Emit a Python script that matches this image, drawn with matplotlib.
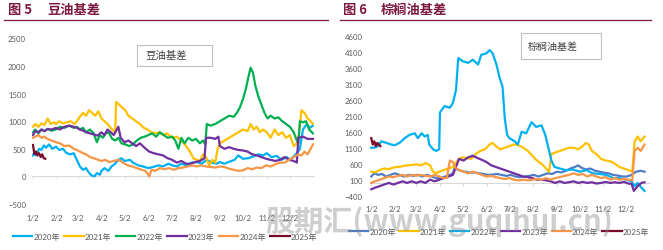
import matplotlib
matplotlib.use("Agg")
import matplotlib.pyplot as plt
from matplotlib.lines import Line2D
from matplotlib.patches import Rectangle

plt.rcParams['font.family'] = ['Lato', 'Noto Sans CJK SC', 'DejaVu Sans']

# ---- data (day of year, basis in yuan/ton) ----
month_days = [1, 32, 60, 91, 121, 152, 182, 213, 244, 274, 305, 335]
month_labels = ['1/2', '2/2', '3/2', '4/2', '5/2', '6/2', '7/2', '8/2', '9/2', '10/2', '11/2', '12/2']
years = ['2020年', '2021年', '2022年', '2023年', '2024年', '2025年']

# soybean oil basis
sbo_2020_d = [1, 3, 5, 9, 12, 15, 18, 22, 26, 31, 35, 40, 44, 49, 54, 58, 62, 66, 70, 73, 77, 81, 84, 88, 90, 94, 99, 103,
              107, 112, 116, 120, 127, 131, 138, 144, 151, 157, 164, 170, 177, 182, 188, 194, 201, 207, 214, 220, 227, 233,
              240, 244, 250, 257, 263, 268, 274, 281, 287, 294, 300, 305, 311, 318, 324, 331, 335, 339, 344, 348, 352, 357,
              361, 365]
sbo_2020_v = [380, 450, 380, 500, 480, 560, 520, 580, 500, 540, 480, 500, 430, 400, 420, 300, 180, 120, 150, 80, 20, 0, 60,
              30, 100, 150, 100, 180, 220, 300, 330, 280, 300, 250, 200, 180, 150, 170, 200, 180, 230, 200, 180, 230, 200,
              250, 260, 230, 300, 250, 230, 260, 230, 270, 300, 380, 320, 330, 360, 400, 380, 420, 350, 370, 300, 350, 300,
              350, 420, 500, 850, 950, 880, 920]
sbo_2021_d = [1, 4, 8, 12, 16, 20, 24, 28, 31, 35, 40, 45, 50, 55, 58, 62, 66, 70, 74, 78, 82, 86, 90, 94, 98, 102, 106, 108,
              109, 113, 117, 121, 125, 130, 135, 140, 145, 150, 155, 160, 165, 170, 175, 182, 188, 194, 200, 205, 210, 214,
              218, 222, 226, 230, 234, 238, 241, 244, 250, 256, 262, 268, 274, 280, 284, 288, 292, 296, 300, 305, 310, 315,
              320, 325, 330, 335, 340, 344, 347, 350, 354, 358, 362, 365]
sbo_2021_v = [900, 950, 900, 960, 930, 1050, 950, 980, 950, 1000, 960, 980, 1000, 950, 1000, 1080, 1150, 1100, 1200, 1150,
              1100, 1180, 1050, 1000, 950, 880, 820, 800, 1350, 1300, 1250, 1200, 1100, 1050, 1000, 950, 880, 850, 800, 780,
              800, 750, 780, 700, 720, 650, 550, 450, 320, 300, 280, 400, 350, 200, 300, 250, 500, 600, 650, 700, 750, 800,
              850, 820, 950, 850, 900, 800, 850, 800, 700, 850, 750, 800, 700, 750, 550, 600, 800, 1200, 1150, 1050, 1000,
              950]
sbo_2022_d = [1, 4, 8, 12, 16, 20, 25, 31, 36, 42, 48, 54, 58, 62, 66, 70, 75, 80, 84, 88, 92, 96, 100, 104, 108, 112, 116,
              121, 126, 131, 136, 141, 146, 151, 156, 161, 166, 171, 176, 182, 186, 190, 194, 198, 203, 208, 213, 218, 222,
              225, 227, 232, 238, 244, 250, 256, 262, 266, 270, 274, 278, 281, 284, 287, 290, 294, 298, 302, 306, 310, 315,
              320, 325, 330, 335, 340, 344, 346, 348, 352, 356, 360, 365]
sbo_2022_v = [800, 850, 780, 850, 820, 860, 830, 850, 900, 880, 920, 880, 900, 850, 880, 800, 850, 780, 620, 750, 700, 800,
              780, 680, 650, 700, 600, 580, 550, 580, 650, 700, 720, 750, 780, 720, 800, 750, 700, 720, 650, 500, 700, 600,
              700, 650, 680, 600, 650, 580, 950, 920, 950, 1000, 1050, 1100, 1080, 1150, 1250, 1400, 1600, 1800, 1970, 1880,
              1650, 1450, 1300, 1150, 1050, 1100, 1050, 1070, 1000, 950, 900, 800, 650, 600, 1000, 980, 1000, 850, 780]
sbo_2023_d = [1, 4, 8, 12, 16, 20, 25, 31, 36, 42, 48, 54, 58, 62, 66, 70, 75, 80, 85, 90, 94, 98, 102, 106, 112, 115, 120,
              125, 130, 135, 140, 146, 152, 158, 164, 170, 176, 182, 188, 194, 200, 206, 212, 218, 224, 226, 232, 238, 242,
              244, 250, 256, 262, 268, 274, 280, 286, 292, 298, 304, 310, 316, 322, 328, 334, 340, 344, 346, 352, 358, 365]
sbo_2023_v = [750, 820, 800, 850, 820, 860, 850, 880, 850, 900, 920, 900, 880, 850, 830, 800, 780, 760, 740, 800, 750, 850,
              800, 750, 900, 700, 620, 650, 600, 550, 600, 520, 450, 420, 400, 380, 330, 300, 250, 280, 230, 230, 260, 280,
              330, 700, 700, 680, 720, 550, 500, 530, 500, 480, 470, 450, 400, 380, 350, 320, 300, 280, 300, 350, 300, 280,
              250, 700, 720, 680, 680]
sbo_2024_d = [1, 4, 8, 12, 16, 20, 25, 31, 36, 42, 48, 54, 58, 62, 66, 70, 75, 80, 86, 90, 95, 100, 106, 112, 118, 124, 130,
              136, 142, 147, 150, 152, 155, 160, 166, 172, 178, 184, 190, 196, 202, 208, 214, 220, 226, 232, 238, 244, 250,
              256, 262, 268, 274, 280, 286, 292, 298, 304, 310, 316, 322, 328, 334, 340, 346, 350, 354, 358, 362, 365]
sbo_2024_v = [700, 720, 750, 700, 720, 680, 650, 620, 600, 550, 560, 500, 480, 450, 420, 400, 350, 330, 300, 280, 300, 260,
              280, 300, 250, 200, 180, 150, 120, 100, 50, 0, 120, 100, 150, 130, 150, 120, 150, 160, 180, 200, 180, 200, 180,
              170, 160, 180, 170, 140, 120, 100, 110, 150, 130, 160, 150, 200, 180, 220, 250, 250, 300, 350, 400, 380, 450,
              400, 500, 580]
sbo_2025_d = [1, 2, 3, 5, 7, 9, 11, 13, 15, 17]
sbo_2025_v = [570, 480, 400, 450, 380, 420, 350, 400, 330, 320]

# palm oil basis
po_2020_d = [1, 5, 10, 15, 20, 26, 32, 38, 44, 50, 56, 62, 68, 74, 80, 86, 92, 98, 104, 108, 110, 114, 118, 124, 130, 136,
             142, 148, 154, 160, 166, 172, 178, 184, 190, 196, 202, 208, 214, 220, 226, 232, 238, 244, 250, 256, 262, 268,
             272, 276, 282, 288, 294, 300, 306, 312, 318, 324, 330, 336, 342, 348, 354, 359]
po_2020_v = [200, 300, 250, 280, 200, 250, 300, 250, 200, 250, 220, 250, 200, 250, 200, 150, 150, 200, 250, 300, 450, 420,
             380, 350, 320, 330, 300, 280, 250, 260, 280, 250, 220, 250, 200, 180, 200, 220, 250, 200, 250, 300, 280, 350,
             330, 380, 450, 500, 550, 480, 420, 450, 380, 350, 320, 300, 250, 230, 200, 200, 250, 350, 380, 350]
po_2021_d = [1, 6, 12, 18, 24, 30, 36, 42, 48, 54, 60, 66, 72, 78, 82, 86, 90, 96, 102, 108, 114, 120, 126, 132, 138, 144,
             150, 156, 160, 164, 170, 176, 182, 188, 194, 200, 206, 212, 218, 224, 230, 234, 237, 242, 248, 254, 260, 266,
             272, 278, 282, 286, 290, 296, 302, 308, 314, 320, 326, 332, 338, 343, 346, 350, 354, 359]
po_2021_v = [350, 330, 400, 450, 430, 480, 500, 520, 550, 560, 580, 550, 620, 550, 350, 300, 350, 400, 450, 500, 700, 800,
             780, 750, 900, 1000, 1050, 1200, 1250, 1150, 1050, 1100, 1150, 1200, 1180, 1100, 1000, 850, 700, 600, 450, 350,
             900, 950, 1000, 1050, 1100, 1100, 1050, 1150, 1250, 1200, 1000, 900, 750, 700, 680, 600, 500, 450, 400, 350,
             1300, 1450, 1300, 1450]
po_2022_d = [1, 5, 10, 14, 21, 27, 32, 38, 45, 51, 58, 62, 67, 71, 75, 77, 82, 86, 90, 91, 97, 104, 108, 112, 115, 121, 128,
             134, 141, 145, 152, 156, 160, 165, 169, 173, 176, 179, 182, 189, 193, 198, 204, 211, 217, 224, 229, 234, 237,
             241, 248, 256, 265, 274, 283, 291, 300, 309, 318, 326, 335, 342, 346, 350, 355, 359]
po_2022_v = [1100, 1100, 1150, 1300, 1250, 1200, 1180, 1250, 1400, 1500, 1550, 1400, 1550, 1450, 1500, 1200, 1050, 1000,
             1050, 2200, 2400, 2350, 2500, 2900, 3900, 3800, 3750, 3850, 3700, 4000, 4050, 4150, 4050, 3700, 3300, 3000,
             2000, 1500, 1400, 1300, 1200, 1600, 1550, 1900, 1750, 1800, 1500, 1000, 700, 500, 450, 400, 420, 350, 400, 300,
             280, 250, 150, 150, 100, 50, -100, 0, -150, -250]
po_2023_d = [1, 6, 12, 18, 24, 30, 36, 42, 48, 54, 60, 66, 72, 78, 84, 90, 96, 102, 108, 112, 116, 122, 128, 134, 140, 146,
             152, 158, 164, 170, 176, 182, 188, 194, 200, 206, 212, 218, 224, 230, 236, 242, 248, 254, 260, 266, 272, 278,
             284, 290, 296, 302, 308, 314, 320, 326, 332, 338, 342, 345, 350, 355, 359]
po_2023_v = [-200, -150, -100, -50, 0, -50, 0, 50, 0, 50, 0, 50, 0, 100, 50, 100, 150, 200, 250, 500, 750, 700, 800, 850,
             780, 720, 650, 550, 500, 450, 400, 350, 300, 250, 200, 180, 150, 100, 100, 80, 50, 0, 50, 0, 20, 50, 0, 30, 0,
             20, -20, 0, 30, 0, 20, 0, 30, -20, -30, -250, -100, 0, 20]
po_2024_d = [1, 6, 12, 18, 24, 30, 36, 42, 48, 54, 60, 66, 72, 78, 84, 90, 96, 100, 104, 108, 112, 116, 122, 128, 134, 140,
             146, 152, 158, 164, 170, 176, 182, 188, 194, 200, 206, 212, 218, 224, 230, 236, 242, 248, 254, 260, 266, 272,
             278, 284, 290, 296, 302, 308, 314, 320, 326, 332, 338, 343, 346, 350, 354, 359]
po_2024_v = [0, 50, 100, 150, 200, 180, 220, 250, 200, 250, 230, 250, 220, 200, 250, 200, 150, 150, 700, 650, 450, 400, 350,
             300, 350, 300, 250, 200, 220, 180, 150, 120, 150, 100, 80, 100, 80, 100, 120, 100, 150, 100, 150, 180, 220, 250,
             300, 250, 280, 200, 250, 200, 150, 180, 100, 150, 100, 120, 100, 80, 1000, 1100, 1000, 1200]
po_2025_d = [1, 3, 5, 7, 9, 11, 13]
po_2025_v = [1400, 1200, 1300, 1150, 1250, 1200, 1150]

# ---- styling ----
maroon = '#7D1A42'
tick_gray = '#595959'
colors_sbo = ['#00B0F0', '#FFC000', '#00B050', '#7030A0', '#F79646', '#7B0A2A']
colors_po = ['#4F7CC4', '#FFC000', '#00B0F0', '#7030A0', '#F79646', '#7B0A2A']
lw = 1.6

fig = plt.figure(figsize=(6.63, 2.51), dpi=100)
ax1 = fig.add_axes([0.0486, 0.1833, 0.4246, 0.6594])
ax2 = fig.add_axes([0.5588, 0.2163, 0.4214, 0.6375])

sbo = [(sbo_2020_d, sbo_2020_v), (sbo_2021_d, sbo_2021_v), (sbo_2022_d, sbo_2022_v),
       (sbo_2023_d, sbo_2023_v), (sbo_2024_d, sbo_2024_v), (sbo_2025_d, sbo_2025_v)]
po = [(po_2020_d, po_2020_v), (po_2021_d, po_2021_v), (po_2022_d, po_2022_v),
      (po_2023_d, po_2023_v), (po_2024_d, po_2024_v), (po_2025_d, po_2025_v)]

for (d, v), c, lab in zip(sbo, colors_sbo, years):
    ax1.plot(d, v, color=c, lw=lw, label=lab, solid_joinstyle='round')
for (d, v), c, lab in zip(po, colors_po, years):
    ax2.plot(d, v, color=c, lw=lw, label=lab, solid_joinstyle='round')


def style_axis(ax, ylo, yhi, xpad, ypad):
    ax.set_xlim(0, 366)
    ax.set_ylim(ylo, yhi)
    ax.set_yticks(range(ylo, yhi + 1, 500))
    ax.set_xticks(month_days)
    ax.set_xticklabels(month_labels)
    for s in ['top', 'right', 'left']:
        ax.spines[s].set_visible(False)
    ax.spines['bottom'].set_position(('data', 0))
    ax.spines['bottom'].set_color('#D9D9D9')
    ax.spines['bottom'].set_linewidth(0.8)
    ax.spines['bottom'].set_zorder(0)
    ax.tick_params(axis='x', length=2, width=0.6, color='#D9D9D9', pad=xpad,
                   labelsize=5.6, labelcolor=tick_gray)
    ax.tick_params(axis='y', length=0, pad=ypad, labelsize=5.6, labelcolor=tick_gray)
    ax.patch.set_alpha(0)


style_axis(ax1, -500, 2500, 25, 4.5)
style_axis(ax2, -400, 4600, 14, 5.5)

# titles with rule underneath
fig.text(8 / 663, 0.962, '图 5', color=maroon, fontsize=9.5, weight='bold',
         family=['Noto Sans CJK SC'], va='center')
fig.text(47 / 663, 0.962, '豆油基差', color=maroon, fontsize=9.5, weight='bold',
         family=['Noto Sans CJK SC'], va='center')
fig.text(343 / 663, 0.962, '图 6', color=maroon, fontsize=9.5, weight='bold',
         family=['Noto Sans CJK SC'], va='center')
fig.text(381 / 663, 0.962, '棕榈油基差', color=maroon, fontsize=9.5, weight='bold',
         family=['Noto Sans CJK SC'], va='center')
fig.add_artist(Line2D([4 / 663, 328 / 663], [0.9175, 0.9175], color=maroon, lw=0.9))
fig.add_artist(Line2D([340 / 663, 651 / 663], [0.9175, 0.9175], color=maroon, lw=0.9))

# chart name boxes
fig.add_artist(Rectangle((137 / 663, 0.733), 75 / 663, 0.0837, transform=fig.transFigure,
                         fill=False, edgecolor='#BFBFBF', lw=0.8))
fig.text(145 / 663, 0.775, '豆油基差', fontsize=7.5, color='#404040',
         family=['Noto Sans CJK SC'], va='center')
fig.add_artist(Rectangle((521 / 663, 0.761), 80 / 663, 0.1036, transform=fig.transFigure,
                         fill=False, edgecolor='#BFBFBF', lw=0.8))
fig.text(528 / 663, 0.814, '棕榈油基差', fontsize=7.2, color='#404040',
         family=['Noto Sans CJK SC'], va='center')

# legends
fig.legend(*ax1.get_legend_handles_labels(), loc='center', bbox_to_anchor=(0.249, 0.056), ncol=6,
           frameon=False, fontsize=5.8, handlelength=2.4, handletextpad=0.15, columnspacing=0.55,
           labelcolor=tick_gray)
fig.legend(*ax2.get_legend_handles_labels(), loc='center', bbox_to_anchor=(0.7526, 0.0757), ncol=6,
           frameon=False, fontsize=5.8, handlelength=2.4, handletextpad=0.15, columnspacing=0.45,
           labelcolor=tick_gray)

# watermark
fig.text(265 / 663, 0.1155, '股期汇(www.guqihui.cn)', fontsize=21, weight='bold', color='#8C8C8C', alpha=0.42,
         family=['Noto Sans CJK SC', 'DejaVu Sans'], ha='left', va='center', zorder=10)

fig.savefig('out.png', dpi=100)
